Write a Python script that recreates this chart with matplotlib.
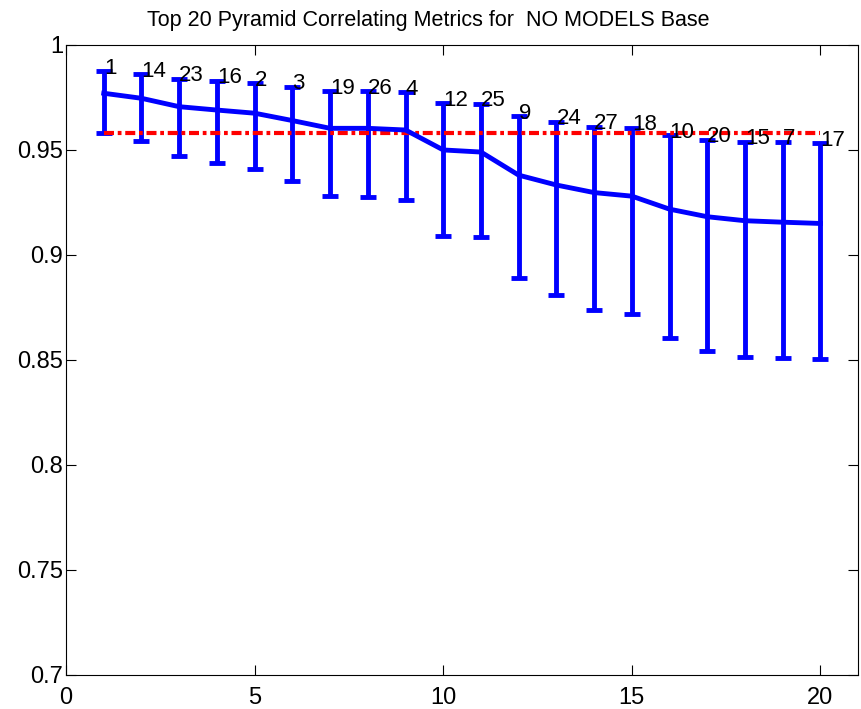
import matplotlib
matplotlib.use("Agg")
import matplotlib.pyplot as plt
from matplotlib.ticker import FuncFormatter

plt.rcParams['font.family'] = ['Liberation Sans', 'DejaVu Sans']

# rank positions and the metric id shown at each one
ranks = list(range(1, 21))
metric_ids = ['1', '14', '23', '16', '2', '3', '19', '26', '4', '12',
              '25', '9', '24', '27', '18', '10', '20', '15', '7', '17']

# mean correlation and the error bar ends
means = [0.977, 0.9746, 0.9706, 0.969, 0.9675, 0.964, 0.9603, 0.9603, 0.9595, 0.9500,
         0.949, 0.938, 0.9333, 0.9297, 0.928, 0.9218, 0.9182, 0.9163, 0.9156, 0.915]
upper = [0.9875, 0.986, 0.984, 0.983, 0.9817, 0.980, 0.978, 0.978, 0.9775, 0.9722,
         0.972, 0.966, 0.9635, 0.961, 0.9606, 0.957, 0.9548, 0.954, 0.954, 0.9532]
lower = [0.958, 0.9544, 0.9473, 0.944, 0.941, 0.935, 0.928, 0.9276, 0.926, 0.909,
         0.9084, 0.889, 0.881, 0.8738, 0.8718, 0.8603, 0.8544, 0.8514, 0.851, 0.8505]

base_value = 0.958

fig = plt.figure(figsize=(8.62, 7.09), dpi=100)
ax = fig.add_axes([0.0766, 0.048, 0.919, 0.8886])

err_lo = [m - l for m, l in zip(means, lower)]
err_hi = [u - m for m, u in zip(means, upper)]
ax.errorbar(ranks, means, yerr=[err_lo, err_hi], color='#0000ff', lw=3.5,
            elinewidth=3.5, capsize=6, capthick=3.5)

ax.plot([ranks[0], ranks[-1]], [base_value, base_value], color='#ff0000',
        lw=3, ls=(0, (2.4, 0.9, 0.9, 0.9)))

for x, y, s in zip(ranks, upper, metric_ids):
    ax.text(x, y + 0.0015, s, ha='left', va='center', fontsize=16)

ax.set_xlim(0, 21)
ax.set_ylim(0.7, 1.0)
ax.set_xticks([0, 5, 10, 15, 20])
ax.set_yticks([0.7, 0.75, 0.8, 0.85, 0.9, 0.95, 1.0])
ax.yaxis.set_major_formatter(FuncFormatter(lambda v, p: ('%g' % round(v, 2))))
ax.tick_params(direction='in', top=True, right=True, labelsize=17, length=7)
ax.tick_params(axis='x', pad=9)
ax.tick_params(axis='y', pad=2)
ax.set_title('Top 20 Pyramid Correlating Metrics for  NO MODELS Base', fontsize=15.5,
             pad=14, x=0.457)

fig.savefig('out.png', dpi=100)
